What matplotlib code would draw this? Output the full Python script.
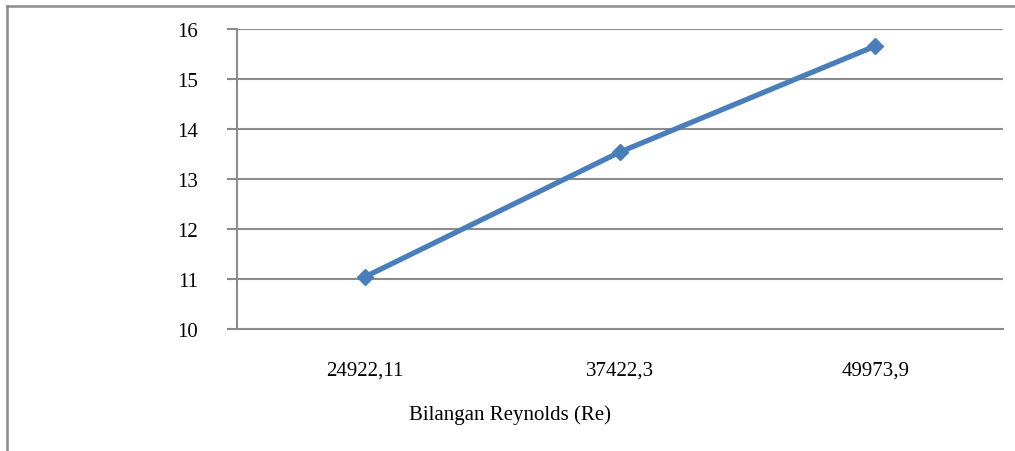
import matplotlib
matplotlib.use("Agg")
import matplotlib.pyplot as plt
from matplotlib.lines import Line2D

categories = ["24922,11", "37422,3", "49973,9"]
values = [11.04, 13.54, 15.66]
yticks = [10, 11, 12, 13, 14, 15, 16]
xlabel = "Bilangan Reynolds (Re)"

W, H = 1015, 452
fig = plt.figure(figsize=(W / 100, H / 100), dpi=100)
ax = fig.add_axes([237 / W, 1 - 330 / H, (1003 - 237) / W, 300 / H])

x = list(range(len(categories)))
ax.plot(x, values, color="#4a7ebb", lw=3.8, marker="D", ms=8,
        markerfacecolor="#4a7ebb", markeredgecolor="#4a7ebb", zorder=3)

ax.set_xlim(-0.5, len(categories) - 0.5)
ax.set_ylim(10, 16)
ax.set_yticks(yticks)
ax.set_yticklabels([str(t) for t in yticks], family="Liberation Serif", fontsize=15)
ax.set_xticks(x)
ax.set_xticklabels(categories, family="Liberation Serif", fontsize=15)

ax.grid(axis="y", color="#8c8c8c", lw=1.5)
ax.set_axisbelow(True)
for s in ["top", "right", "bottom"]:
    ax.spines[s].set_visible(False)
ax.spines["left"].set_color("#8c8c8c")
ax.spines["left"].set_linewidth(1.5)
ax.tick_params(axis="y", length=7.2, width=1.5, color="#8c8c8c", pad=21)
ax.tick_params(axis="x", length=0, pad=23)
ax.axhline(10, color="#8c8c8c", lw=1.5, clip_on=False)

fig.text(510 / W, 1 - 415 / H, xlabel, ha="center", va="center",
         family="Liberation Serif", fontsize=15)

fig.add_artist(Line2D([7 / W, 7 / W], [0, 1 - 7 / H], transform=fig.transFigure,
                      color="#8a8a8a", lw=1.8))
fig.add_artist(Line2D([7 / W, 1], [1 - 7 / H, 1 - 7 / H], transform=fig.transFigure,
                      color="#8a8a8a", lw=1.8))

fig.savefig("out.png", dpi=100)
